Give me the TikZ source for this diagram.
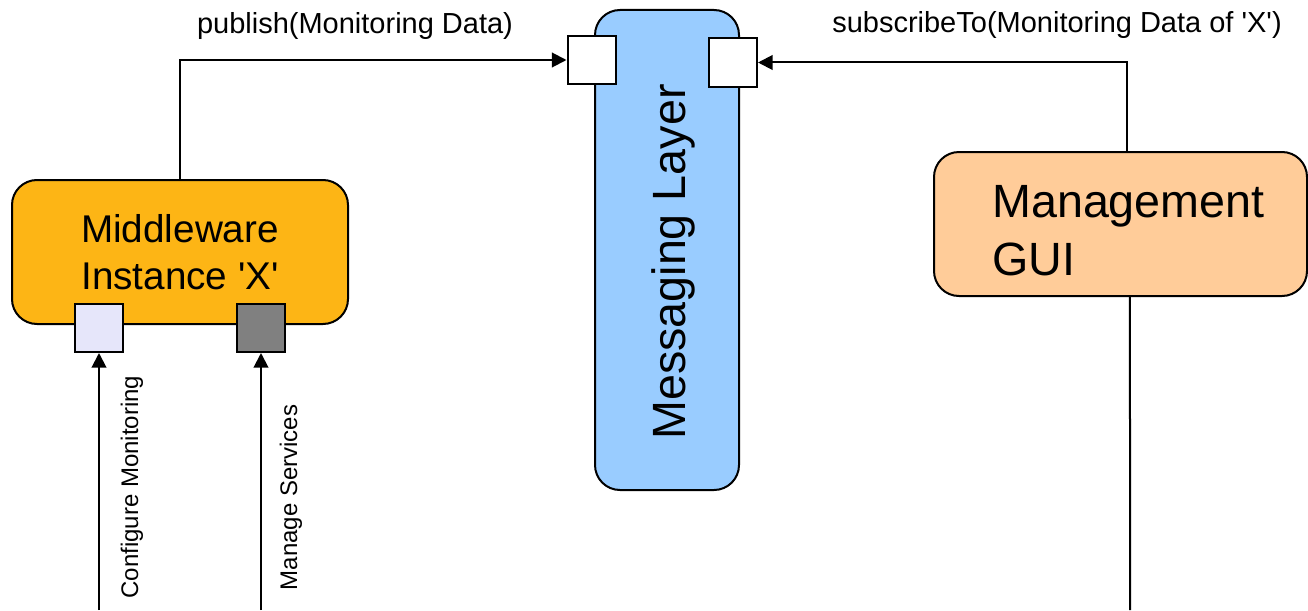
\documentclass[tikz,border=0pt]{standalone}
\usepackage{fontspec}
\setmainfont{Liberation Sans}
\usetikzlibrary{arrows.meta}
\definecolor{mwfill}{RGB}{253,181,21}
\definecolor{msgfill}{RGB}{153,204,255}
\definecolor{guifill}{RGB}{255,204,153}
\definecolor{lavfill}{RGB}{230,230,250}
\definecolor{grayfill}{RGB}{128,128,128}
\tikzset{
  bigbox/.style={draw=black, line width=1.5pt, rounded corners=18.75pt, inner sep=0pt},
  port/.style={draw=black, line width=1.5pt, minimum width=36pt, minimum height=36pt, inner sep=0pt},
  arr/.style={line width=1.5pt, -{Triangle[length=11pt,width=11pt]}},
  conn/.style={line width=1.5pt},
  lbl/.style={inner sep=0pt, font=\fontsize{21.75}{26}\selectfont},
  slbl/.style={inner sep=0pt, rotate=90, font=\fontsize{18}{22}\selectfont},
}
\begin{document}
\begin{tikzpicture}[x=0.75pt,y=-0.75pt]
\useasboundingbox (0,0) rectangle (1308,610);
% big boxes
\node[bigbox, fill=mwfill, minimum width=252pt, minimum height=108pt, align=center,
      font=\fontsize{29}{35}\selectfont] (mw) at (180,252) {Middleware\\Instance \textquotesingle X\textquotesingle};
\node[bigbox, fill=msgfill, minimum width=108pt, minimum height=360pt] (msg) at (667,250) {};
\node[inner sep=0pt, rotate=90, anchor=base, font=\fontsize{35}{42}\selectfont] (msgtxt) at (685,262) {Messaging Layer};
\node[bigbox, fill=guifill, minimum width=279.75pt, minimum height=108pt] (gui) at (1120.5,224) {};
\node[inner sep=0pt, anchor=base west, align=left, font=\fontsize{35}{43.5}\selectfont] (guitxt) at (992,275) {Management\\GUI};
% ports
\node[port, fill=lavfill] (cm) at (99,328) {};
\node[port, fill=grayfill] (ms) at (261,328) {};
\node[port, fill=white] (pubin) at (591.5,60) {};
\node[port, fill=white] (subin) at (733,62.5) {};
% free ends
\coordinate (cmb) at (99,610);
\coordinate (msb) at (261,610);
\coordinate (guib) at (1130,610);
% connectors
\draw[arr] (mw.north) |- (pubin.west);
\draw[arr] ([xshift=4.9pt]gui.north) |- (subin.east);
\draw[arr] (cmb) -- (cm.south);
\draw[arr] (msb) -- (ms.south);
\draw[conn] ([xshift=7.1pt]gui.south) -- (guib);
% labels
\node[lbl, anchor=base] (publbl) at (355,34) {publish(Monitoring Data)};
\node[lbl, anchor=base] (sublbl) at (1057,33) {subscribeTo(Monitoring Data of \textquotesingle X\textquotesingle)};
\node[slbl, anchor=base] (cmlbl) at (138,487) {Configure Monitoring};
\node[slbl, anchor=base] (mslbl) at (297,497.5) {Manage Services};
\end{tikzpicture}
\end{document}
